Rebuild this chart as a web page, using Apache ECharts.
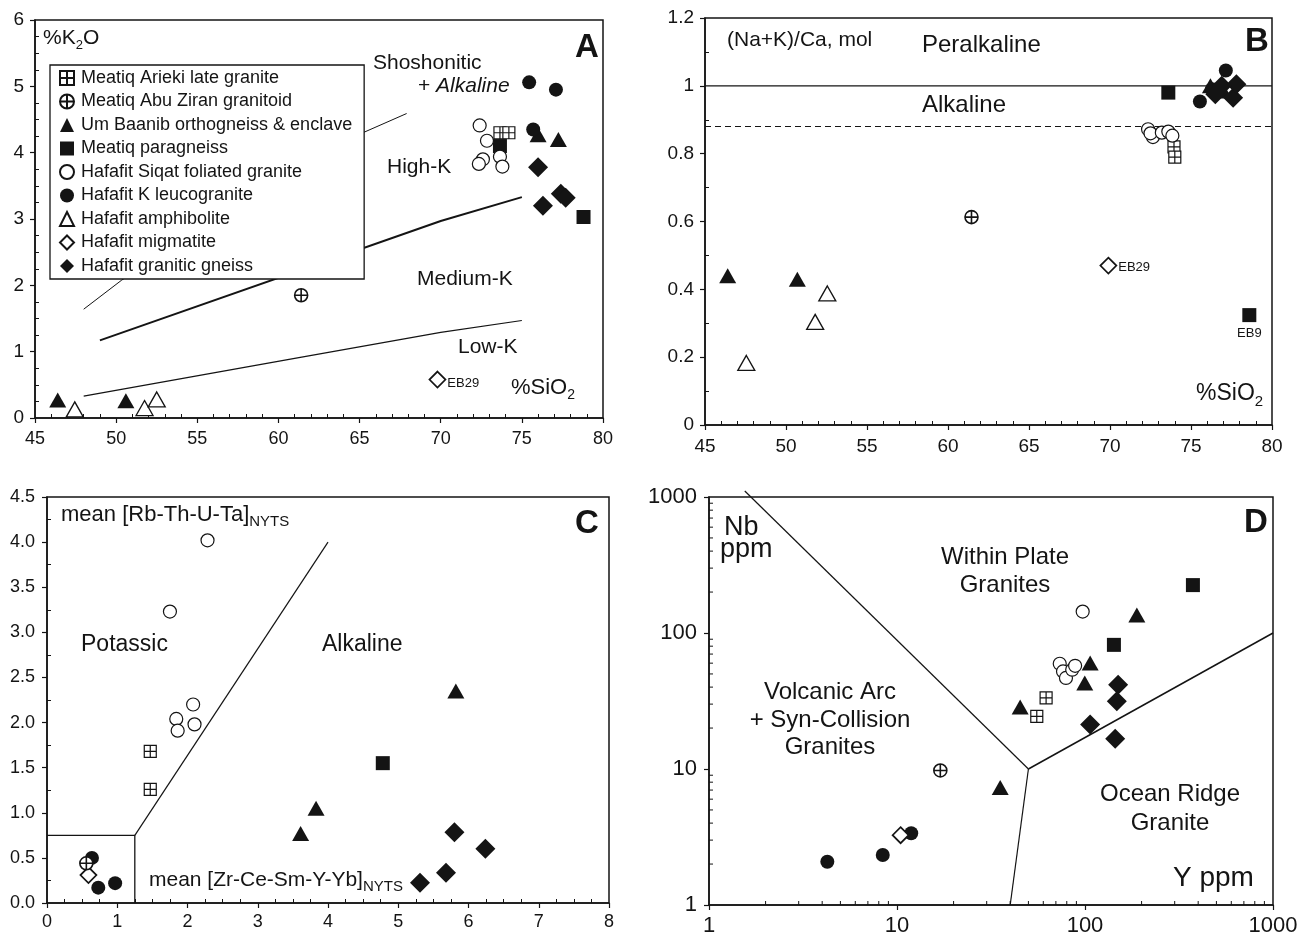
<!DOCTYPE html>
<html>
<head>
<meta charset="utf-8">
<title>Granitoid classification plots</title>
<script src="https://cdn.jsdelivr.net/npm/echarts@6/dist/echarts.min.js"></script>
<style>
html, body { margin: 0; padding: 0; background: #fff; }
#main { width: 1303px; height: 937px; }
</style>
</head>
<body>
<div id="main"></div>
<script>
// ---- A : K2O vs SiO2 ----
var A_arieki = [[73.65, 4.3], [74.2, 4.3]];
var A_abuZiran = [[61.4, 1.85]];
var A_umBaanib = [[46.4, 0.27], [50.6, 0.26], [76.0, 4.27], [77.25, 4.2]];
var A_paragneiss = [[73.65, 4.1], [78.8, 3.03]];
var A_siqat = [[72.4, 4.41], [72.85, 4.18], [73.65, 3.94], [72.6, 3.9], [72.35, 3.83], [73.8, 3.79]];
var A_leuco = [[75.45, 5.06], [77.1, 4.95], [75.7, 4.35]];
var A_amphib = [[47.45, 0.13], [51.75, 0.15], [52.5, 0.28]];
var A_migmatite = [[69.8, 0.58]];
var A_gneiss = [[76.0, 3.78], [77.4, 3.38], [77.7, 3.32], [76.3, 3.2]];
var A_shoLine = [[48, 1.64], [50.35, 2.08], [65.2, 4.3], [67.9, 4.59]];
var A_highKLine = [[49, 1.17], [70, 2.97], [75, 3.33]];
var A_lowKLine = [[48, 0.33], [61, 0.9], [70, 1.29], [75, 1.47]];

// ---- B : (Na+K)/Ca vs SiO2 ----
var B_arieki = [[73.95, 0.82], [74.0, 0.79]];
var B_abuZiran = [[61.45, 0.613]];
var B_umBaanib = [[46.4, 0.44], [50.7, 0.43], [76.2, 1.0], [77.0, 0.985]];
var B_paragneiss = [[73.6, 0.98], [78.6, 0.324]];
var B_siqat = [[72.35, 0.872], [72.65, 0.849], [72.5, 0.86], [73.2, 0.862], [73.6, 0.865], [73.85, 0.853]];
var B_leuco = [[75.55, 0.954], [77.15, 1.045], [76.3, 0.99]];
var B_amphib = [[47.55, 0.183], [51.8, 0.304], [52.55, 0.388]];
var B_migmatite = [[69.9, 0.47]];
var B_gneiss = [[76.5, 0.975], [77.6, 0.965], [77.8, 1.005], [76.9, 1.0]];
var B_peralkLine = [[45, 1.0], [80, 1.0]];
var B_alkLine = [[45, 0.88], [80, 0.88]];

// ---- C : mean [Rb-Th-U-Ta] vs mean [Zr-Ce-Sm-Y-Yb] ----
var C_arieki = [[1.47, 1.68], [1.47, 1.26]];
var C_abuZiran = [[0.56, 0.44]];
var C_umBaanib = [[5.82, 2.35], [3.83, 1.05], [3.61, 0.77]];
var C_paragneiss = [[4.78, 1.55]];
var C_siqat = [[2.285, 4.02], [1.75, 3.23], [2.08, 2.2], [1.84, 2.04], [1.86, 1.91], [2.1, 1.98]];
var C_leuco = [[0.64, 0.5], [0.73, 0.17], [0.97, 0.22]];
var C_amphib = [];
var C_migmatite = [[0.59, 0.31]];
var C_gneiss = [[5.8, 0.785], [6.24, 0.6], [5.68, 0.335], [5.31, 0.225]];
var C_boxLine = [[0, 0.75], [1.25, 0.75], [1.25, 0]];
var C_divLine = [[1.25, 0.75], [4, 4]];

// ---- D : Nb vs Y (log-log) ----
var D_arieki = [[55.4, 24.4], [62.1, 33.3]];
var D_abuZiran = [[17, 9.76]];
var D_umBaanib = [[35.4, 7.3], [45.2, 28.6], [106.5, 60.1], [99.7, 42.9], [188.7, 135.8]];
var D_paragneiss = [[142.5, 81.8], [375, 225]];
var D_siqat = [[73.4, 59.4], [76.4, 52.2], [79.2, 46.7], [85.5, 53.7], [88.6, 57.4], [97.2, 143.7]];
var D_leuco = [[4.26, 2.08], [8.4, 2.33], [11.9, 3.37]];
var D_amphib = [];
var D_migmatite = [[10.45, 3.26]];
var D_gneiss = [[150, 41.7], [147.7, 31.5], [106.5, 21.2], [144.7, 16.7]];
var D_wpgLine = [[1.55, 1107], [50, 10]];
var D_orgLine = [[50, 10], [1000, 100]];
var D_baseLine = [[50, 10], [40, 1]];
var D_minorTicks = [2, 3, 4, 5, 6, 7, 8, 9, 20, 30, 40, 50, 60, 70, 80, 90, 200, 300, 400, 500, 600, 700, 800, 900];

var ink = '#141414';
var fam = '"Liberation Sans", Arial, Helvetica, sans-serif';

var groups = [
  { name: 'Meatiq Arieki late granite', symbol: 'path://M0 0H20V20H0ZM10 0V20M0 10H20', size: 12, fill: '#fff', bw: 1.2 },
  { name: 'Meatiq Abu Ziran granitoid', symbol: 'path://M0 10A10 10 0 1 1 20 10A10 10 0 1 1 0 10ZM10 0V20M0 10H20', size: 13, fill: '#fff', bw: 1.6, z: 4 },
  { name: 'Um Baanib orthogneiss & enclave', symbol: 'triangle', size: [17, 15], fill: ink, bw: 0 },
  { name: 'Meatiq paragneiss', symbol: 'rect', size: 14, fill: ink, bw: 0 },
  { name: 'Hafafit Siqat foliated granite', symbol: 'circle', size: 13, fill: '#fff', bw: 1.2 },
  { name: 'Hafafit K leucogranite', symbol: 'circle', size: 14, fill: ink, bw: 0 },
  { name: 'Hafafit amphibolite', symbol: 'triangle', size: [17, 15], fill: '#fff', bw: 1.3 },
  { name: 'Hafafit migmatite', symbol: 'diamond', size: [16, 16], fill: '#fff', bw: 1.7 },
  { name: 'Hafafit granitic gneiss', symbol: 'diamond', size: [20, 20], fill: ink, bw: 0 }
];

var panels = [
  [A_arieki, A_abuZiran, A_umBaanib, A_paragneiss, A_siqat, A_leuco, A_amphib, A_migmatite, A_gneiss],
  [B_arieki, B_abuZiran, B_umBaanib, B_paragneiss, B_siqat, B_leuco, B_amphib, B_migmatite, B_gneiss],
  [C_arieki, C_abuZiran, C_umBaanib, C_paragneiss, C_siqat, C_leuco, C_amphib, C_migmatite, C_gneiss],
  [D_arieki, D_abuZiran, D_umBaanib, D_paragneiss, D_siqat, D_leuco, D_amphib, D_migmatite, D_gneiss]
];

// sample labels (panel, group, point index)
var pointLabels = [
  { p: 0, g: 7, i: 0, text: 'EB29', position: 'right', offset: [-2, 4] },
  { p: 1, g: 7, i: 0, text: 'EB29', position: 'right', offset: [-2, 2] },
  { p: 1, g: 3, i: 1, text: 'EB9', position: 'bottom', offset: [0, 2] }
];

var series = [];
panels.forEach(function (pd, p) {
  pd.forEach(function (data, g) {
    if (!data.length) return;
    var gr = groups[g];
    var items = data.map(function (v, i) {
      var it = { value: v };
      pointLabels.forEach(function (l) {
        if (l.p === p && l.g === g && l.i === i) {
          it.label = { show: true, formatter: l.text, position: l.position, distance: 3, offset: l.offset,
            fontSize: 13, fontFamily: fam, color: ink };
        }
      });
      return it;
    });
    series.push({
      type: 'scatter', name: gr.name, xAxisIndex: p, yAxisIndex: p,
      symbol: gr.symbol, symbolSize: gr.size, z: gr.z || 3,
      itemStyle: { color: gr.fill, borderColor: ink, borderWidth: gr.bw, opacity: 1 },
      emphasis: { disabled: true },
      data: items
    });
  });
});

function boundary(data, idx, width, type, noClip) {
  return {
    type: 'line', xAxisIndex: idx, yAxisIndex: idx, data: data, symbol: 'none', silent: true, z: 1,
    clip: !noClip, lineStyle: { color: ink, width: width, type: type || 'solid' }
  };
}
series.push(boundary(A_shoLine, 0, 1));
series.push(boundary(A_highKLine, 0, 2));
series.push(boundary(A_lowKLine, 0, 1.2));
series.push(boundary(B_peralkLine, 1, 1.2));
series.push(boundary(B_alkLine, 1, 1.1, [6, 4]));
series.push(boundary(C_boxLine, 2, 1.3));
series.push(boundary(C_divLine, 2, 1.2));
series.push(boundary(D_wpgLine, 3, 1.2, 'solid', true));
series.push(boundary(D_orgLine, 3, 1.5));
series.push(boundary(D_baseLine, 3, 1.2));

// log minor ticks of panel D, placed through the axes
series.push({
  type: 'custom', xAxisIndex: 3, yAxisIndex: 3, silent: true, z: 2,
  data: D_minorTicks.map(function (v) { return [v, v]; }),
  renderItem: function (params, api) {
    var v = api.value(0);
    var py = api.coord([1, v]);
    var px = api.coord([v, 1]);
    return {
      type: 'group', children: [
        { type: 'line', shape: { x1: py[0], y1: py[1], x2: py[0] + 4, y2: py[1] }, style: { stroke: ink, lineWidth: 1 } },
        { type: 'line', shape: { x1: px[0], y1: px[1], x2: px[0], y2: px[1] - 4 }, style: { stroke: ink, lineWidth: 1 } }
      ]
    };
  }
});

function axis(kind, idx, o) {
  var a = {
    gridIndex: idx, type: o.log ? 'log' : 'value', min: o.min, max: o.max,
    position: kind === 'x' ? 'bottom' : 'left',
    axisLine: { show: true, onZero: false, lineStyle: { color: ink, width: 1.5 } },
    axisTick: { show: true, inside: false, length: 5, lineStyle: { color: ink, width: 1.2 } },
    minorTick: { show: !o.log, splitNumber: o.minor || 5, length: -4, lineStyle: { color: ink, width: 1 } },
    splitLine: { show: false },
    axisLabel: { color: ink, fontSize: o.font, fontFamily: fam, margin: o.margin, formatter: o.fmt,
      showMinLabel: true, showMaxLabel: true }
  };
  if (o.log) a.logBase = 10; else a.interval = o.interval;
  return a;
}
var plain = function (v) { return String(+(+v).toFixed(2)); };
var oneDec = function (v) { return (+v).toFixed(1); };
var whole = function (v) { return String(Math.round(v)); };

var xAxes = [
  axis('x', 0, { min: 45, max: 80, interval: 5, minor: 5, font: 18, margin: 12, fmt: plain }),
  axis('x', 1, { min: 45, max: 80, interval: 5, minor: 5, font: 19, margin: 12, fmt: plain }),
  axis('x', 2, { min: 0, max: 8, interval: 1, minor: 4, font: 18, margin: 10, fmt: plain }),
  axis('x', 3, { log: true, min: 1, max: 1000, font: 22, margin: 10, fmt: whole })
];
var yAxes = [
  axis('y', 0, { min: 0, max: 6, interval: 1, minor: 4, font: 19, margin: 11, fmt: plain }),
  axis('y', 1, { min: 0, max: 1.2, interval: 0.2, minor: 2, font: 19, margin: 11, fmt: plain }),
  axis('y', 2, { min: 0, max: 4.5, interval: 0.5, minor: 2, font: 18, margin: 12, fmt: oneDec }),
  axis('y', 3, { log: true, min: 1, max: 1000, font: 22, margin: 12, fmt: whole })
];

function gridBox(l, t, w, h) {
  return { left: l, top: t, width: w, height: h, show: true, borderColor: ink, borderWidth: 1.5, backgroundColor: 'transparent' };
}

function txt(x, y, s, size, extra) {
  extra = extra || {};
  return {
    type: 'text', x: x, y: y, z: 50, silent: true,
    style: {
      text: s, fontSize: size, fontFamily: fam, fontWeight: extra.bold ? 'bold' : 'normal',
      fontStyle: extra.italic ? 'italic' : 'normal', fill: ink,
      align: extra.align || 'left', verticalAlign: 'middle',
      textAlign: extra.align || 'left', textVerticalAlign: 'middle',
      rich: extra.rich
    }
  };
}
function sub(main, small) {
  return {
    n: { fontSize: main, lineHeight: main + 7, verticalAlign: 'middle', fontFamily: fam, fill: ink, color: ink },
    s: { fontSize: small, lineHeight: small, verticalAlign: 'bottom', fontFamily: fam, fill: ink, color: ink },
    i: { fontSize: main, lineHeight: main + 7, verticalAlign: 'middle', fontFamily: fam, fontStyle: 'italic', fill: ink, color: ink }
  };
}

var texts = [
  // A
  txt(43, 38, '{n|%K}{s|2}{n|O}', 21, { rich: sub(21, 13) }),
  txt(373, 63, 'Shoshonitic', 21),
  txt(418, 86, '{n|+ }{i|Alkaline}', 21, { rich: sub(21, 13) }),
  txt(387, 167, 'High-K', 21),
  txt(417, 279, 'Medium-K', 21),
  txt(458, 347, 'Low-K', 21),
  txt(511, 388, '{n|%SiO}{s|2}', 22, { rich: sub(22, 14) }),
  txt(575, 48, 'A', 33, { bold: true }),
  // B
  txt(727, 40, '(Na+K)/Ca, mol', 21),
  txt(922, 45, 'Peralkaline', 24),
  txt(922, 105, 'Alkaline', 24),
  txt(1245, 42, 'B', 33, { bold: true }),
  txt(1196, 394, '{n|%SiO}{s|2}', 23, { rich: sub(23, 15) }),
  // C
  txt(61, 515, '{n|mean [Rb-Th-U-Ta]}{s|NYTS}', 22, { rich: sub(22, 15) }),
  txt(81, 645, 'Potassic', 23),
  txt(322, 645, 'Alkaline', 23),
  txt(149, 880, '{n|mean [Zr-Ce-Sm-Y-Yb]}{s|NYTS}', 21, { rich: sub(21, 15) }),
  txt(575, 524, 'C', 33, { bold: true }),
  // D
  txt(724, 528, 'Nb', 27),
  txt(720, 550, 'ppm', 27),
  txt(1005, 557, 'Within Plate', 24, { align: 'center' }),
  txt(1005, 585, 'Granites', 24, { align: 'center' }),
  txt(830, 692, 'Volcanic Arc', 24, { align: 'center' }),
  txt(830, 720, '+ Syn-Collision', 24, { align: 'center' }),
  txt(830, 747, 'Granites', 24, { align: 'center' }),
  txt(1170, 794, 'Ocean Ridge', 24, { align: 'center' }),
  txt(1170, 823, 'Granite', 24, { align: 'center' }),
  txt(1173, 878, 'Y ppm', 28),
  txt(1244, 523, 'D', 33, { bold: true })
];

var chart = echarts.init(document.getElementById('main'), null, { renderer: 'canvas' });
chart.setOption({
  animation: false,
  backgroundColor: '#fff',
  textStyle: { fontFamily: fam },
  grid: [gridBox(35, 20, 568, 398), gridBox(705, 18, 567, 407), gridBox(47, 497, 562, 406), gridBox(709, 497, 564, 409)],
  xAxis: xAxes,
  yAxis: yAxes,
  legend: {
    orient: 'vertical', left: 50, top: 65, z: 20,
    padding: [4, 12, 4, 9], itemGap: 5.5, itemWidth: 14, itemHeight: 14,
    backgroundColor: '#fff', borderColor: ink, borderWidth: 1.3, borderRadius: 0,
    selectedMode: false,
    textStyle: { color: ink, fontSize: 18, lineHeight: 18, fontFamily: fam, padding: [0, 0, 0, 2] },
    data: groups.map(function (g) { return g.name; })
  },
  graphic: texts,
  series: series
});
</script>
</body>
</html>
